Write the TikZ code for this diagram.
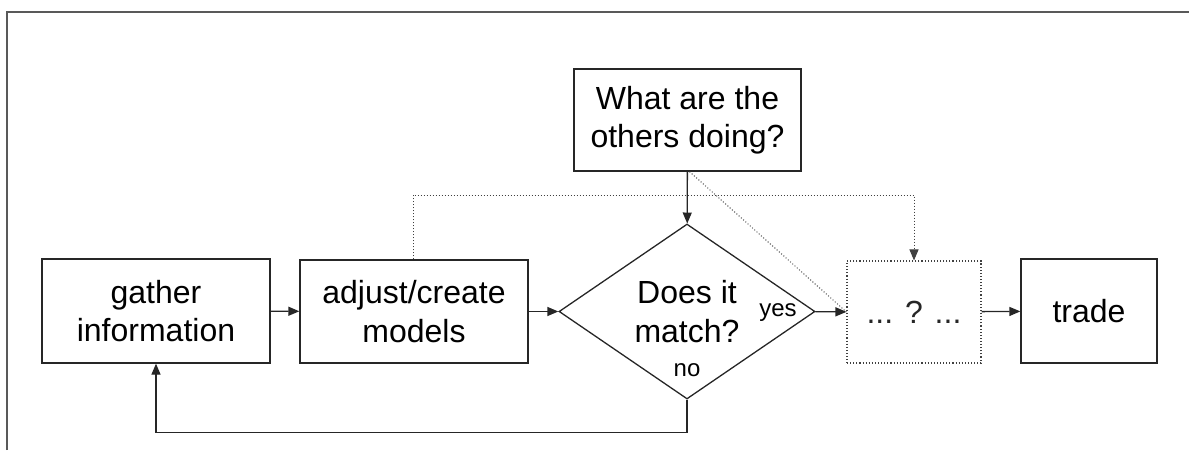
\documentclass[tikz,border=0pt]{standalone}
\usepackage{fontspec}
\setmainfont{Liberation Sans}
\usetikzlibrary{shapes.geometric,arrows.meta}
\begin{document}
\begin{tikzpicture}[x=1pt,y=-1pt,
  every node/.style={font=\fontsize{32}{38.5}\selectfont, align=center, inner sep=0pt},
  box/.style={draw=black!85, line width=1.3pt, rectangle},
  dotbox/.style={draw=black!75, line width=1.1pt, dotted, rectangle},
  tip/.style={-{Triangle[length=11pt,width=9pt]}},
  flow/.style={draw=black!85, line width=1.3pt, tip},
  dflow/.style={draw=black!75, line width=1pt, dotted}
]
\useasboundingbox (0,0) rectangle (1189,450);
% frame edges
\draw[black!65, line width=2pt] (7,450) -- (7,12) -- (1189,12);

% boxes
\node[box, minimum width=228pt, minimum height=104pt] (gather) at (156,311) {gather\\information};
\node[box, minimum width=228pt, minimum height=103pt] (adjust) at (414,311.5) {adjust/create\\models};
\node[box, minimum width=227pt, minimum height=102pt] (others) at (687.5,120) {What are the\\others doing?};
\node[draw=black!85, line width=1.3pt, diamond, minimum width=256pt, minimum height=175pt] (match) at (687,311.5) {Does it\\match?};
\node[dotbox, minimum width=134pt, minimum height=102pt, text=black!85] (unknown) at (914,312) {... ? ...};
\node[box, minimum width=136pt, minimum height=104pt] (trade) at (1089,311) {trade};

% labels on the decision
\node[font=\fontsize{24}{28}\selectfont] (yes) at (778,313) {yes};
\node[font=\fontsize{24}{28}\selectfont] (no) at (687,370) {no};

% main flow
\draw[flow] (gather) -- (adjust);
\draw[flow] (adjust) -- (match);
\draw[flow] (others) -- (match);
\draw[flow] (match) -- (unknown);
\draw[flow] (unknown) -- (trade);
\draw[flow] (match.south) -- ++(0,33) -| (gather.south);

% dotted shortcuts
\coordinate (up) at (413,195);
\draw[dflow, tip] (adjust.north -| up) -- (up) -| (unknown.north);
\draw[dflow] (others.south) ++(2,0) -- (unknown.west);
\end{tikzpicture}
\end{document}
